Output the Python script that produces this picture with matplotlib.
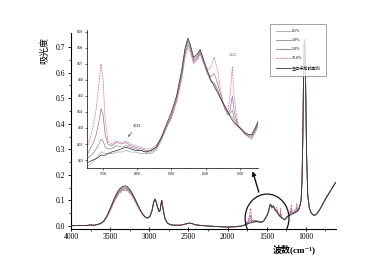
import numpy as np
import matplotlib
matplotlib.use("Agg")
import matplotlib.pyplot as plt
from matplotlib.patches import Ellipse

plt.rcParams['font.family'] = ['Liberation Serif', 'Noto Sans CJK SC', 'DejaVu Sans']

# wavenumber grid, pieces
wn_start = [4000, 3900, 3800, 3750, 3720, 3700, 3660]
wn_oh = [3620, 3580, 3540, 3500, 3460, 3420, 3380, 3340, 3310, 3280, 3240, 3200, 3160, 3120, 3080, 3050]
wn_ch = [3020, 2990, 2965, 2945, 2930, 2915, 2895, 2875, 2862, 2850, 2840, 2825, 2800, 2770, 2730,
         2680, 2600, 2530, 2490, 2460, 2400, 2300, 2150, 2000, 1900, 1820, 1780]
wn_fp = [1760, 1750, 1740, 1730, 1720, 1712, 1706, 1700, 1694, 1686, 1675, 1660, 1645, 1633, 1620,
         1605, 1590, 1575, 1560, 1545, 1530, 1515, 1500, 1485, 1470, 1460, 1452, 1445, 1435, 1425,
         1416, 1405, 1395, 1385, 1375, 1365, 1355, 1345, 1335, 1328, 1322, 1316, 1305, 1295, 1285,
         1275, 1265, 1255, 1245, 1230, 1215, 1200, 1185, 1175, 1165, 1155, 1145, 1135, 1125, 1115,
         1105, 1095, 1085, 1075]
wn_lo = [1060, 1048, 1038, 1030, 1022, 1015, 1008, 1000, 990, 975, 955, 930, 900, 880, 860,
         820, 780, 740, 700, 660, 620]

# parts shared by all samples
abs_start = [0.001, 0.002, 0.002, 0.004, 0.003, 0.003, 0.006]
abs_ch = [0.031, 0.038, 0.060, 0.090, 0.105, 0.098, 0.075, 0.056, 0.060, 0.085, 0.100, 0.070, 0.030,
          0.012, 0.005, 0.003, 0.003, 0.008, 0.011, 0.010, 0.004, 0.001, -0.002, -0.004, -0.003,
          0.000, 0.004]
abs_lo = [0.10, 0.18, 0.35, 0.55, 0.70, 0.73, 0.68, 0.50, 0.28, 0.12, 0.07, 0.05, 0.042, 0.043,
          0.048, 0.065, 0.088, 0.11, 0.13, 0.15, 0.17]

labels = ["0.1%", "1.0%", "5.0%", "10.0%", "空白未加碱酯剂"]

oh_01 = [0.010, 0.019, 0.038, 0.065, 0.094, 0.121, 0.140, 0.150, 0.152, 0.149, 0.136, 0.115, 0.090, 0.065, 0.044, 0.035]
oh_1 = [0.009, 0.018, 0.037, 0.063, 0.092, 0.118, 0.137, 0.147, 0.149, 0.146, 0.133, 0.113, 0.088, 0.064, 0.044, 0.034]
oh_5 = [0.009, 0.018, 0.036, 0.061, 0.089, 0.114, 0.133, 0.143, 0.145, 0.142, 0.130, 0.110, 0.086, 0.063, 0.043, 0.034]
oh_10 = [0.008, 0.017, 0.034, 0.058, 0.085, 0.110, 0.128, 0.138, 0.140, 0.138, 0.126, 0.107, 0.084, 0.062, 0.043, 0.034]
oh_blank = [0.010, 0.020, 0.040, 0.068, 0.098, 0.126, 0.145, 0.155, 0.157, 0.154, 0.140, 0.118, 0.092, 0.066, 0.045, 0.035]

fp_01 = [0.004, 0.005, 0.007, 0.009, 0.011, 0.013, 0.015, 0.015, 0.014, 0.014, 0.014, 0.015, 0.015, 0.016, 0.015,
         0.015, 0.014, 0.014, 0.014, 0.016, 0.022, 0.030, 0.038, 0.049, 0.065, 0.079, 0.085, 0.081, 0.073, 0.075,
         0.078, 0.071, 0.065, 0.060, 0.057, 0.053, 0.048, 0.044, 0.040, 0.038, 0.037, 0.034, 0.031, 0.029, 0.027,
         0.026, 0.025, 0.029, 0.034, 0.038, 0.041, 0.044, 0.049, 0.048, 0.048, 0.050, 0.052, 0.053, 0.055, 0.058,
         0.059, 0.062, 0.068, 0.080]
fp_1 = [0.008, 0.010, 0.012, 0.014, 0.017, 0.020, 0.023, 0.022, 0.018, 0.017, 0.017, 0.019, 0.018, 0.019, 0.018,
        0.017, 0.016, 0.015, 0.015, 0.017, 0.023, 0.031, 0.038, 0.048, 0.064, 0.078, 0.084, 0.080, 0.072, 0.074,
        0.078, 0.071, 0.064, 0.059, 0.058, 0.054, 0.048, 0.043, 0.039, 0.039, 0.041, 0.036, 0.031, 0.029, 0.027,
        0.025, 0.025, 0.029, 0.034, 0.038, 0.042, 0.046, 0.055, 0.051, 0.049, 0.051, 0.053, 0.055, 0.058, 0.064,
        0.061, 0.063, 0.069, 0.080]
fp_5 = [0.010, 0.012, 0.016, 0.020, 0.026, 0.034, 0.042, 0.038, 0.026, 0.020, 0.019, 0.021, 0.020, 0.021, 0.019,
        0.018, 0.017, 0.016, 0.016, 0.018, 0.023, 0.030, 0.037, 0.047, 0.062, 0.076, 0.082, 0.079, 0.071, 0.073,
        0.077, 0.070, 0.064, 0.062, 0.064, 0.058, 0.050, 0.043, 0.038, 0.042, 0.050, 0.040, 0.031, 0.029, 0.026,
        0.025, 0.024, 0.028, 0.033, 0.039, 0.044, 0.050, 0.065, 0.055, 0.050, 0.053, 0.056, 0.058, 0.062, 0.074,
        0.064, 0.065, 0.070, 0.081]
fp_10 = [0.012, 0.016, 0.022, 0.030, 0.042, 0.058, 0.070, 0.060, 0.035, 0.022, 0.020, 0.022, 0.021, 0.022, 0.020,
         0.019, 0.018, 0.017, 0.017, 0.019, 0.024, 0.030, 0.036, 0.046, 0.060, 0.074, 0.080, 0.077, 0.070, 0.072,
         0.076, 0.070, 0.066, 0.068, 0.074, 0.066, 0.052, 0.042, 0.040, 0.052, 0.068, 0.048, 0.032, 0.030, 0.026,
         0.024, 0.023, 0.027, 0.032, 0.040, 0.046, 0.055, 0.080, 0.060, 0.052, 0.056, 0.060, 0.062, 0.068, 0.088,
         0.070, 0.068, 0.072, 0.082]
fp_blank = [0.006, 0.008, 0.009, 0.010, 0.011, 0.012, 0.013, 0.013, 0.013, 0.014, 0.015, 0.016, 0.017, 0.018, 0.017,
            0.016, 0.016, 0.015, 0.016, 0.018, 0.024, 0.032, 0.040, 0.050, 0.066, 0.080, 0.086, 0.082, 0.074, 0.076,
            0.079, 0.072, 0.066, 0.060, 0.056, 0.052, 0.048, 0.044, 0.040, 0.037, 0.035, 0.033, 0.031, 0.029, 0.027,
            0.026, 0.026, 0.030, 0.035, 0.038, 0.040, 0.042, 0.045, 0.047, 0.048, 0.050, 0.051, 0.052, 0.054, 0.056,
            0.058, 0.062, 0.068, 0.080]

oh_all = [oh_01, oh_1, oh_5, oh_10, oh_blank]
fp_all = [fp_01, fp_1, fp_5, fp_10, fp_blank]
colors = ['#a8a8a8', '#8a8a8a', '#a06f92', '#d27a9c', '#2f2f2f']
styles = ['-', '-', '-', (0, (3, 1)), '-']

wn = wn_start + wn_oh + wn_ch + wn_fp + wn_lo

fig = plt.figure(figsize=(3.92, 2.76), dpi=100)
ax = fig.add_axes([0.181, 0.172, 0.675, 0.708])
axin = fig.add_axes([0.222, 0.391, 0.436, 0.50])
axin.patch.set_alpha(0)

handles = []
for i in range(5):
    y = abs_start + oh_all[i] + abs_ch + fp_all[i] + abs_lo
    z = 3 if i == 4 else 2 + i * 0.1
    h, = ax.plot(wn, y, color=colors[i], ls=styles[i], lw=0.6, zorder=z, label=labels[i])
    axin.plot(wn, y, color=colors[i], ls=styles[i], lw=0.5, zorder=z)
    handles.append(h)

# main axes
ax.set_xlim(4000, 620)
ax.set_ylim(-0.01, 0.755)
ax.set_xticks([4000, 3500, 3000, 2500, 2000, 1500, 1000])
ax.set_xticks(np.arange(3750, 600, -500), minor=True)
ax.set_yticks(np.arange(0, 0.75, 0.1))
ax.set_yticks(np.arange(0.05, 0.75, 0.1), minor=True)
ax.yaxis.set_major_formatter(matplotlib.ticker.FormatStrFormatter('%.1f'))
for s in ['top', 'right']:
    ax.spines[s].set_visible(False)
for s in ['left', 'bottom']:
    ax.spines[s].set_linewidth(0.8)
ax.tick_params(labelsize=5.5, width=0.6, length=2.5, pad=1.5)
ax.tick_params(which='minor', width=0.5, length=1.5)
ax.tick_params(axis='x', direction='inout', length=3)

# inset
axin.set_xlim(1747, 1247)
axin.set_ylim(0.005, 0.091)
axin.set_xticks([1700, 1600, 1500, 1400, 1300])
axin.set_xticks([1650, 1550, 1450, 1350, 1250], minor=True)
axin.set_yticks(np.arange(0.01, 0.095, 0.01))
axin.yaxis.set_major_formatter(matplotlib.ticker.FormatStrFormatter('%.2f'))
for s in ['top', 'right']:
    axin.spines[s].set_visible(False)
for s in ['left', 'bottom']:
    axin.spines[s].set_linewidth(0.5)
axin.tick_params(labelsize=2.6, width=0.4, length=1.5, pad=1)
axin.tick_params(which='minor', width=0.3, length=1)

axin.annotate("1633", xy=(1627, 0.0245), xytext=(1601, 0.031), fontsize=3, ha='center', va='center',
              arrowprops=dict(arrowstyle='->', lw=0.4, color='#333333', shrinkA=1, shrinkB=0))
axin.text(1320, 0.074, "1322", fontsize=3, ha='center', va='bottom', color='#555555')

# circle and arrow on main axes
ax.add_patch(Ellipse((1495, 0.03), 560, 0.19, fill=False, lw=0.9, color='#111111', zorder=6))
ax.annotate("", xy=(1690, 0.225), xytext=(1590, 0.122),
            arrowprops=dict(arrowstyle='-|>', lw=1.0, color='#111111', mutation_scale=6))

leg = fig.legend(handles=handles, loc='upper left', bbox_to_anchor=(0.689, 0.913), fontsize=3.0,
                 frameon=True, fancybox=False, handlelength=3.6, handletextpad=0.3,
                 labelspacing=1.2, borderpad=1.3, borderaxespad=0)
leg.get_frame().set_edgecolor('#777777')
leg.get_frame().set_linewidth(0.6)
leg.set_zorder(10)

fig.text(45 / 392, 1 - 50 / 276, "吸光度", rotation=90, fontsize=6.5, ha='center', va='center')
fig.text(294 / 392, 1 - 249 / 276, "波数(cm⁻¹)", fontsize=6.5, fontweight='bold', ha='center', va='center',
         family=['Liberation Serif', 'Noto Sans CJK SC', 'DejaVu Serif'])

fig.savefig("out.png", dpi=100)
